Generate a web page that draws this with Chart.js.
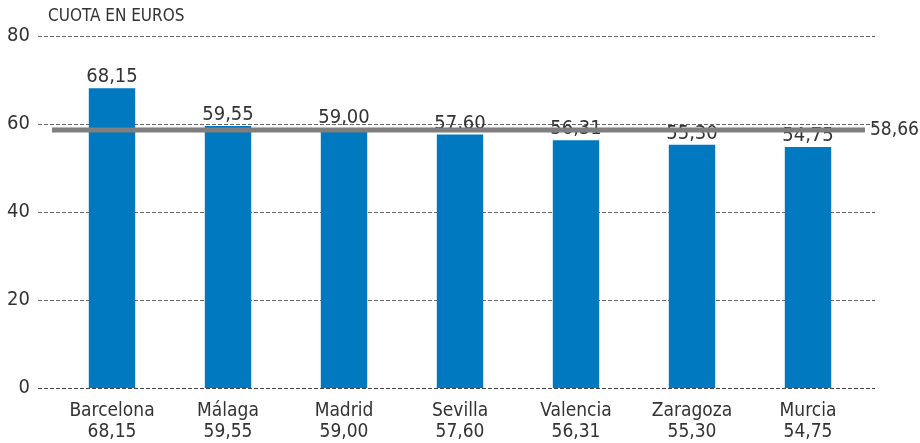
<!DOCTYPE html>
<html>
<head>
<meta charset="utf-8">
<script src="https://cdn.jsdelivr.net/npm/chart.js@4.4.1/dist/chart.umd.min.js"></script>
<style>
  html, body { margin: 0; padding: 0; background: #fff; }
  #wrap { width: 920px; height: 443px; }
</style>
</head>
<body>
<div id="wrap"><canvas id="myChart" width="920" height="443"></canvas></div>
<script>
// Données
var ciudades = ["Barcelona", "Málaga", "Madrid", "Sevilla", "Valencia", "Zaragoza", "Murcia"];
var cuotas = [68.15, 59.55, 59.0, 57.6, 56.31, 55.3, 54.75];
var media = 58.66;
var yTicks = [0, 20, 40, 60, 80];
var titulo = "CUOTA EN EUROS";

var FONT = "'Liberation Sans Narrow', 'DejaVu Sans Condensed', Roboto, sans-serif";
var TEXT = "#333333";

function fmt(v) {
  return v.toFixed(2).replace(".", ",");
}

// Etiquetas del eje X: nombre + valor
var etiquetas = ciudades.map(function (c, i) {
  return [c, fmt(cuotas[i])];
});

// Plugin: rejilla discontinua, etiquetas de valor, línea de media y título
var extras = {
  id: "extras",
  beforeDatasetsDraw: function (chart) {
    var ctx = chart.ctx;
    var y = chart.scales.y;
    ctx.save();
    ctx.lineWidth = 1;
    ctx.setLineDash([4, 2]);
    yTicks.forEach(function (t) {
      var py = Math.round(y.getPixelForValue(t)) + 0.5;
      ctx.strokeStyle = t === 0 ? "#444" : "#666";
      ctx.beginPath();
      ctx.moveTo(38, py);
      ctx.lineTo(875, py);
      ctx.stroke();
    });
    ctx.restore();
  },
  afterDatasetsDraw: function (chart) {
    var ctx = chart.ctx;
    var meta = chart.getDatasetMeta(0);
    var y = chart.scales.y;
    ctx.save();
    // valores encima de las barras
    ctx.fillStyle = TEXT;
    ctx.font = "20px " + FONT;
    ctx.textAlign = "center";
    ctx.textBaseline = "bottom";
    meta.data.forEach(function (bar, i) {
      ctx.fillText(fmt(cuotas[i]), bar.x, bar.y - 1);
    });
    // línea de media
    var my = y.getPixelForValue(media);
    ctx.strokeStyle = "#7f7f7f";
    ctx.lineWidth = 5;
    ctx.beginPath();
    ctx.moveTo(52, my);
    ctx.lineTo(865, my);
    ctx.stroke();
    ctx.font = "19px " + FONT;
    ctx.textAlign = "left";
    ctx.textBaseline = "middle";
    ctx.fillText(fmt(media), 870, my);
    // título
    ctx.font = "17px " + FONT;
    ctx.fillText(titulo, 48, 17);
    ctx.restore();
  },
};

var ctx = document.getElementById("myChart").getContext("2d");
var myChart = new Chart(ctx, {
  type: "bar",
  data: {
    labels: etiquetas,
    datasets: [
      {
        data: cuotas,
        backgroundColor: "#0079C1",
        barPercentage: 0.4,
        categoryPercentage: 1.0,
      },
    ],
  },
  options: {
    responsive: false,
    animation: false,
    layout: { padding: { top: 27, right: 54, bottom: 0, left: 0 } },
    plugins: {
      legend: { display: false },
      tooltip: { enabled: false },
    },
    scales: {
      x: {
        grid: { display: false, drawTicks: false },
        border: { display: false },
        afterFit: function (s) {
          s.height = 55;
        },
        ticks: {
          color: TEXT,
          font: { family: FONT, size: 19, lineHeight: 1.1 },
          padding: 13,
          maxRotation: 0,
          autoSkip: false,
        },
      },
      y: {
        min: 0,
        max: 80,
        afterFit: function (s) {
          s.width = 54;
        },
        afterBuildTicks: function (s) {
          s.ticks = yTicks.map(function (v) {
            return { value: v };
          });
        },
        grid: { display: false, drawTicks: false },
        border: { display: false },
        ticks: {
          color: TEXT,
          font: { family: FONT, size: 20 },
          padding: 24,
        },
      },
    },
  },
  plugins: [extras],
});
</script>
</body>
</html>
